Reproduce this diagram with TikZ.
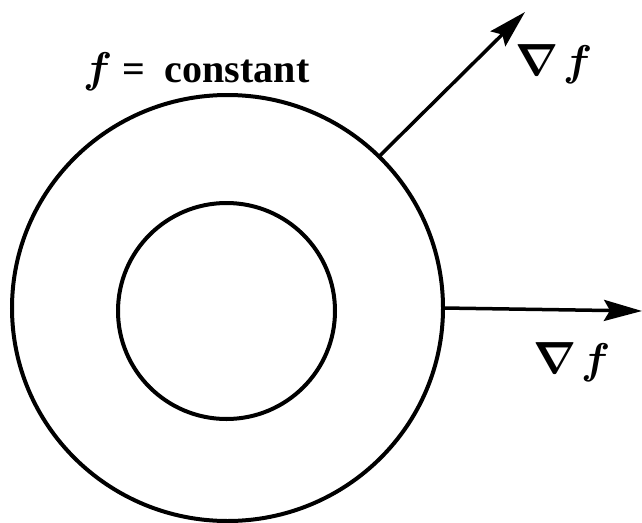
\documentclass[tikz,border=0pt]{standalone}
\usepackage{graphicx}
\usepackage{fontspec}
\setmainfont{Liberation Serif}
\usepackage{bm}
\usetikzlibrary{shapes.geometric,arrows.meta}
\newcommand{\bignabla}{\scalebox{4.5}{\normalsize$\bm{\nabla}$}}
\newcommand{\fvar}{\scalebox{4.3}{\normalsize$\bm{f}$}}
\begin{document}
\begin{tikzpicture}[x=1pt,y=-1pt,
  levelcurve/.style={draw, ellipse, line width=4pt, inner sep=0pt, outer sep=0pt},
  grad/.style={line width=3.5pt, -{Stealth[length=38pt,width=21pt,inset=6pt]}},
  lbl/.style={inner sep=0pt, outer sep=0pt, anchor=base west, font=\fontsize{40}{40}\selectfont}]
\useasboundingbox (0,0) rectangle (642,522);
\node[levelcurve, minimum width=431pt, minimum height=426pt] (outer) at (227.5,308) {};
\node[levelcurve, minimum width=217pt, minimum height=216pt] (inner) at (226.5,311) {};
\coordinate (tip1) at (525,12);
\coordinate (tip2) at (642,311);
\draw[grad] (outer.45) -- (tip1);
\draw[grad] (outer.-0.8) -- (tip2);
\node[lbl] (fc) at (83,82) {\fvar\hspace{10pt}\textbf{=}\hspace{20pt}\textbf{constant}};
\node[lbl] (g1) at (515,75) {\bignabla\hspace{5pt}\fvar};
\node[lbl] (g2) at (533,373) {\bignabla\hspace{5pt}\fvar};
\end{tikzpicture}
\end{document}
